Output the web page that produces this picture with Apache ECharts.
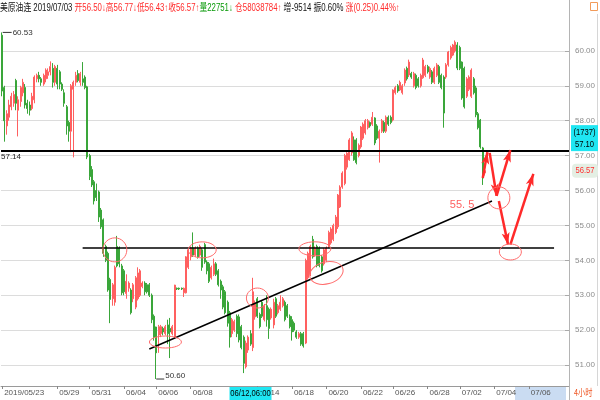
<!DOCTYPE html>
<html><head><meta charset="utf-8">
<script src="https://cdn.jsdelivr.net/npm/echarts@6/dist/echarts.min.js"></script>
<style>html,body{margin:0;padding:0;background:#fff}#c{width:600px;height:400px}</style>
</head><body><div id="c"></div>
<script>
// ---- data: [open, close, low, high] per 4-hour bar ----
const ohlc = [
[60.45,58.85,58.70,60.53],[58.95,58.00,57.40,59.00],[57.85,58.20,57.60,58.30],[58.10,58.45,58.00,58.60],
[58.40,58.70,58.30,58.80],[58.50,58.75,58.40,58.85],[59.15,58.50,58.30,59.20],[58.30,58.60,57.55,58.70],
[58.55,58.95,58.40,59.00],[58.80,59.10,58.70,59.20],[58.95,58.45,58.35,59.05],[58.50,58.35,58.20,58.60],
[58.45,58.30,58.15,58.55],[58.35,58.70,58.30,58.80],[58.60,59.25,58.50,59.30],[59.20,59.30,59.10,59.35],
[59.30,59.20,59.10,59.40],[59.20,59.10,59.00,59.25],[59.05,59.30,59.00,59.35],[59.20,59.45,59.10,59.50],
[59.30,59.40,59.20,59.50],[59.40,59.55,59.30,59.70],[59.50,59.10,58.95,59.65],[59.10,59.55,59.00,59.60],
[59.50,59.05,58.90,59.60],[59.40,59.05,58.90,59.45],[59.05,58.90,58.85,59.10],[58.80,58.50,58.40,58.90],
[58.40,57.85,57.60,58.45],[57.95,57.70,57.40,58.00],[57.70,59.00,57.10,59.05],[58.90,59.10,56.95,59.15],
[59.10,59.30,59.00,59.40],[59.35,59.15,59.10,59.45],[59.10,59.35,59.00,59.40],[59.20,59.10,59.00,59.68],
[59.25,58.95,58.90,59.30],[58.97,56.96,56.90,59.00],
[57.00,56.40,56.30,57.05],[56.60,56.16,56.10,56.70],[56.25,55.70,55.60,56.30],[56.00,55.80,55.70,56.20],
[55.96,55.24,55.10,56.00],[55.44,54.96,54.90,55.50],[55.16,54.20,54.10,55.20],[54.40,54.00,53.95,54.45],
[54.20,53.15,53.10,54.25],[53.45,52.88,52.20,53.50],[52.90,53.30,52.70,53.35],[52.80,53.80,52.70,53.85],
[54.40,53.84,53.80,54.70],[54.35,53.90,53.80,54.40],[53.84,53.07,53.00,53.90],[53.70,53.10,53.00,53.75],
[53.05,53.40,52.90,53.60],[53.20,53.35,53.10,53.40],[53.15,52.50,52.45,53.20],[52.90,53.30,52.80,53.35],
[52.66,53.50,52.60,53.55],[52.90,53.64,52.85,53.80],[53.00,53.70,52.95,53.75],[53.25,53.35,53.20,53.40],
[53.35,53.10,53.00,53.40],[53.30,53.10,53.05,53.35],[53.30,53.00,52.95,53.35],[53.00,52.30,52.20,53.05],
[52.40,51.80,51.70,52.45],[52.09,51.35,50.60,52.10],
[51.86,52.10,51.35,52.15],[51.90,52.10,51.80,52.15],[52.05,51.95,51.85,52.10],[51.90,52.10,51.85,52.15],
[52.15,51.90,51.60,52.30],[52.05,51.95,51.20,52.35],[51.90,52.10,51.85,52.15],[51.80,53.29,51.75,53.30],
[53.20,53.18,53.15,53.22],[53.20,53.18,53.15,53.22],[53.20,53.18,53.15,53.22],[53.07,53.20,52.95,53.22],
[53.07,54.10,53.05,54.12],[53.80,54.30,53.75,54.35],[54.10,54.35,54.00,54.40],[54.35,54.15,54.10,54.80],
[54.15,54.35,54.10,54.40],[54.35,54.10,54.05,54.40],[54.15,54.40,54.10,54.45],[54.30,53.80,53.70,54.35],
[54.45,53.95,53.90,54.50],[53.95,53.70,53.60,54.00],[53.90,53.40,53.35,53.95],[53.50,53.80,53.45,53.85],
[53.60,53.90,53.55,54.05],[53.90,53.60,53.55,53.95],[53.70,53.30,53.25,53.75],[53.40,53.15,52.90,53.45],
[53.24,52.66,52.60,53.30],[53.10,52.50,52.45,53.15],[52.80,52.20,52.10,52.85],[52.50,51.80,51.50,52.55],
[51.90,52.30,51.80,52.35],[52.00,52.25,51.95,52.30],[52.40,51.90,51.80,52.45],
[52.38,51.72,51.65,52.45],[52.10,51.50,51.45,52.15],[51.80,51.05,50.77,51.85],[50.95,51.63,50.90,51.70],
[51.43,51.80,51.35,51.85],[51.90,51.60,51.55,52.00],[51.50,53.10,51.40,53.50],[52.38,52.78,52.30,52.85],
[52.90,52.40,52.35,52.95],[52.45,52.10,52.05,52.50],[52.80,52.40,52.35,52.85],[52.30,52.70,52.25,52.75],
[52.70,52.30,52.10,53.00],[52.60,52.05,51.75,52.65],[52.35,52.60,52.30,52.65],[52.15,52.80,52.05,52.90],
[52.90,52.40,52.35,52.95],[52.50,52.70,52.45,52.75],[52.60,52.80,52.55,53.00],[52.70,52.90,52.65,52.95],
[52.80,52.30,52.25,52.85],[52.70,52.40,52.35,52.75],[52.40,52.10,52.05,52.45],[52.30,51.95,51.70,52.40],
[52.20,52.00,51.95,52.25],[51.95,51.80,51.75,52.00],[51.80,51.90,51.75,51.95],[51.90,51.60,51.55,51.95],
[51.90,51.55,51.50,51.95],[51.63,54.00,51.60,54.05],
[53.50,54.20,53.45,54.25],[53.60,54.40,53.55,54.45],[54.60,54.10,54.05,54.70],[54.15,54.35,54.10,54.40],
[54.40,53.85,53.80,54.45],[54.35,53.85,53.80,54.40],[54.10,53.70,53.65,54.15],[53.90,54.30,53.85,54.35],
[54.00,54.35,53.95,54.40],[54.40,54.80,54.35,54.85],[54.50,54.90,54.45,54.95],[54.60,55.00,54.55,55.05],
[54.80,55.24,54.75,55.30],[54.96,55.87,54.90,55.90],[55.53,56.10,55.50,56.15],[56.10,56.50,56.05,56.55],
[56.20,57.00,56.15,57.05],[56.67,57.07,56.60,57.10],[56.88,57.45,56.85,57.50],[57.08,57.65,57.00,57.70],
[57.45,56.88,56.85,57.55],[57.45,56.80,56.75,57.50],[57.00,57.30,56.95,57.35],[57.25,57.82,57.20,57.85],
[57.50,57.90,57.45,57.95],[57.65,58.00,57.60,58.05],[57.80,58.00,57.75,58.05],[57.95,57.85,57.80,57.98],
[57.90,58.10,57.85,58.25],[58.08,57.36,57.30,58.10],[57.85,57.50,57.45,57.90],[57.50,57.70,56.80,57.75],
[57.70,58.00,57.65,58.05],[57.95,57.70,57.65,58.00],[57.70,58.10,57.65,58.15],[58.10,57.90,57.85,58.15],
[58.10,57.95,57.90,58.15],[58.02,58.88,57.98,58.90],[58.80,58.95,58.75,59.00],[59.00,58.85,58.80,59.05],
[58.88,59.10,58.85,59.15],
[58.80,59.00,58.75,59.05],[59.08,59.45,59.00,59.50],[59.50,59.20,59.15,59.55],[59.31,59.68,59.25,59.75],
[59.35,59.25,59.20,59.40],[59.00,59.35,58.95,59.40],[59.30,58.95,58.90,59.35],[59.20,59.00,58.95,59.25],
[59.00,59.30,58.95,59.35],[59.23,59.74,59.20,59.80],[59.30,59.55,59.25,59.60],[59.55,59.40,59.35,59.60],
[59.25,59.50,59.20,59.55],[59.40,59.10,59.05,59.45],[59.10,59.50,59.05,59.55],[59.30,59.60,59.25,59.65],
[59.55,59.10,59.05,59.60],[59.30,58.95,58.90,59.35],[59.25,58.22,57.80,59.30],[59.25,59.60,59.20,59.65],
[59.60,59.97,59.55,60.00],[59.80,60.10,59.75,60.15],[59.88,60.17,59.85,60.20],[60.00,60.25,59.95,60.30],
[60.17,59.51,59.45,60.25],[60.10,59.50,59.45,60.15],[59.68,58.65,58.60,59.70],[59.50,58.40,58.35,59.55],
[58.70,59.20,58.65,59.25],[58.90,59.25,58.85,59.30],[58.70,59.45,58.65,59.50],[59.20,58.80,58.75,59.25],
[58.94,58.17,58.10,59.00],[58.20,57.80,57.75,58.25],[58.02,57.25,57.20,58.05],[57.22,56.36,56.16,57.25],
[56.50,56.57,56.43,56.77]
];
// x-axis tick labels: [category index, text]
const tickLabels = [[0,'2019/05/23'],[24,'05/29'],[38,'05/31'],[53,'06/04'],[67,'06/06'],[82,'06/08'],
  [111,'06/14'],[126,'06/18'],[141,'06/20'],[156,'06/22'],[170,'06/26'],[185,'06/28'],[199,'07/02'],
  [214,'07/04'],[229,'07/06']];
const categoryCount = 247;
const categories = Array.from({length: categoryCount}, () => '');
tickLabels.forEach(([i, t]) => { categories[i] = t; });

const resistance = 57.14;
const support = [[35, 54.35], [240, 54.35]];
const trend = [[64, 51.46], [213, 55.70]];
const arrows = [
  [[209, 56.36], [211, 57.10]],
  [[212, 57.08], [215, 55.85]],
  [[215, 55.85], [221, 57.16]],
  [[216, 55.70], [220, 54.45]],
  [[221, 54.45], [231, 56.48]]
];
const ellipses = [[49,54.30,12,12,0],[71,51.66,16,6,0],[87,54.30,14,8,0],[111,52.92,11,10,0],
  [136,54.33,16,7,0],[141,53.64,17,11,0.25],[216,55.79,11,11,0],[221,54.24,11,8,0]];
const noteText = {at: [200, 55.59], text: '55. 5'};
const crossIndex = 108, crossDate = '06/12,06:00', crossPrice = 57.10, crossCount = '(1737)';
const headerParts = [['k','美原油连 2019/07/03 '],['r','开56.50↓高56.77↓低56.43↑收56.57↑'],['g','量22751↓'],
  ['r',' 仓58038784↑'],['k',' 增-9514 振0.60% '],['r','涨(0.25)0.44%↑']];

const SANS = "'Liberation Sans','Noto Sans CJK SC',sans-serif";
const CJK = "'Noto Sans CJK SC',sans-serif";

const chart = echarts.init(document.getElementById('c'));
chart.setOption({
  animation: false,
  grid: {left: 1, right: 31, top: 16, bottom: 14},
  xAxis: {
    type: 'category', data: categories, boundaryGap: true,
    axisLine: {lineStyle: {color: '#9a9a9a'}},
    axisTick: {show: true, alignWithLabel: true, interval: (i, v) => v !== '', length: 3, lineStyle: {color: '#888'}},
    axisLabel: {interval: 0, align: 'left', padding: [0, 0, 0, 2], margin: 3, fontSize: 8, color: '#555', fontFamily: SANS},
    splitLine: {show: false}
  },
  yAxis: {
    type: 'value', position: 'right', min: 50.4, max: 61, minInterval: 1, maxInterval: 1, scale: true,
    axisLine: {show: false},
    axisTick: {show: true, inside: true, length: 4, lineStyle: {color: '#aaa'}},
    axisLabel: {margin: 6, align: 'left', fontSize: 8, color: '#8c8c8c', fontFamily: SANS,
      showMinLabel: false, showMaxLabel: false, formatter: v => v.toFixed(2)},
    splitLine: {show: true, showMinLine: false, showMaxLine: false, lineStyle: {color: '#dcdcdc', width: 1}}
  },
  series: [{
    type: 'candlestick', data: ohlc, barWidth: 1.5,
    itemStyle: {color: '#ff7373', color0: '#0b7d0b', borderColor: '#ff6060', borderColor0: '#3aa63a', borderWidth: 1},
    markPoint: {
      silent: true,
      data: [
        {type: 'max', valueDim: 'highest', symbol: 'rect', symbolSize: [9, 1], symbolOffset: [5, 0],
          label: {show: true, position: 'right', distance: 1, formatter: p => p.value.toFixed(2), color: '#333', fontSize: 8, fontFamily: SANS}},
        {type: 'min', valueDim: 'lowest', symbol: 'rect', symbolSize: [8, 1], symbolOffset: [4, 0],
          label: {show: true, position: 'right', distance: 1, offset: [0, -3], formatter: p => p.value.toFixed(2), color: '#333', fontSize: 8, fontFamily: SANS}}
      ],
      itemStyle: {color: '#333'}
    },
    markLine: {
      silent: true, symbol: ['none', 'none'], label: {show: false},
      lineStyle: {type: 'solid', color: '#000', width: 1.5},
      data: [
        {yAxis: resistance, lineStyle: {color: '#000', width: 2},
          label: {show: true, position: 'insideStartBottom', distance: [0, 2], formatter: resistance.toFixed(2), color: '#222', fontSize: 8, fontFamily: SANS}},
        [{coord: support[0]}, {coord: support[1]}],
        [{coord: trend[0]}, {coord: trend[1]}],
        ...arrows.map(([a, b]) => [
          {coord: a, symbol: 'none', lineStyle: {color: '#ff2a2a', width: 2.5}},
          {coord: b, symbol: 'arrow', symbolSize: [6, 12]}
        ])
      ]
    }
  }]
});

const P = (i, p) => chart.convertToPixel({xAxisIndex: 0, yAxisIndex: 0}, [i, p]);
const g = [];
const hdrColors = {k: '#111', r: '#ff2b2b', g: '#0a9a0a'};
const rich = {};
Object.keys(hdrColors).forEach(k => { rich[k] = {fill: hdrColors[k], fontSize: 10, fontFamily: SANS}; });
g.push({type: 'text', x: 0, y: 8, scaleX: 0.78, scaleY: 1,
  style: {text: headerParts.map(([k, t]) => '{' + k + '|' + t + '}').join(''), rich, fontSize: 10, fontFamily: SANS, textVerticalAlign: 'middle'},
  z: 10, silent: true});
g.push({type: 'line', shape: {x1: 569.5, y1: 0, x2: 569.5, y2: 400}, style: {stroke: '#b4b4b4', lineWidth: 1}, z: 5, silent: true});
g.push({type: 'line', shape: {x1: 597.5, y1: 14, x2: 597.5, y2: 386}, style: {stroke: '#d6d6d6', lineWidth: 1}, z: 5, silent: true});
ellipses.forEach(([i, p, rx, ry, rot]) => {
  const [x, y] = P(i, p);
  g.push({type: 'ellipse', x, y, rotation: rot, shape: {cx: 0, cy: 0, rx, ry},
    style: {fill: 'none', stroke: '#ff6b6b', lineWidth: 1}, z: 50, silent: true});
});
{
  const [x, y] = P(noteText.at[0], noteText.at[1]);
  g.push({type: 'text', x, y, style: {text: noteText.text, fill: '#ff6060', font: "11px 'Liberation Sans',sans-serif", textAlign: 'center', textVerticalAlign: 'middle'}, z: 50, silent: true});
}
const smallText = (x, y, text, fill, align) => ({type: 'text', x, y, scaleX: 0.85,
  style: {text, fill, font: "9px " + SANS, textAlign: align || 'center', textVerticalAlign: 'middle'}, z: 61, silent: true});
{
  const [, yc] = P(0, crossPrice);
  g.push({type: 'rect', shape: {x: 571, y: yc - 27, width: 27, height: 26}, style: {fill: '#1fe6f2'}, z: 60, silent: true});
  g.push(smallText(584.5, yc - 20, crossCount, '#000'));
  g.push(smallText(584.5, yc - 8, crossPrice.toFixed(2), '#000'));
  const last = ohlc[ohlc.length - 1][1];
  const [, yl] = P(0, last);
  g.push({type: 'rect', shape: {x: 572, y: yl - 7, width: 26, height: 14, r: 4}, style: {fill: '#e4efe4'}, z: 60, silent: true});
  g.push(smallText(585, yl, last.toFixed(2), '#ff3030'));
  const [xc] = P(crossIndex, 55);
  g.push({type: 'rect', shape: {x: xc - 21, y: 387, width: 42, height: 13}, style: {fill: '#1fe6f2'}, z: 60, silent: true});
  g.push(smallText(xc, 393.5, crossDate, '#000'));
}
g.push({type: 'rect', shape: {x: 515, y: 387, width: 51, height: 13}, style: {fill: '#cadcf2'}, z: -10, silent: true});
g.push({type: 'text', x: 574, y: 393, scaleX: 0.8, style: {text: '4小时', fill: '#ee5522', font: "9px " + CJK, textVerticalAlign: 'middle'}, z: 10, silent: true});
g.push({type: 'rect', shape: {x: 590.5, y: 2.5, width: 7, height: 8}, style: {fill: 'none', stroke: '#f29b5a', lineWidth: 1}, z: 10, silent: true});
chart.setOption({graphic: g});
</script></body></html>
